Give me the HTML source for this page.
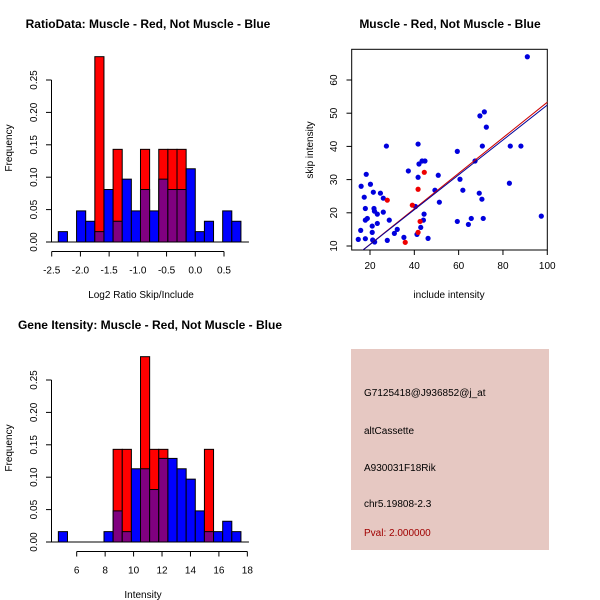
<!DOCTYPE html>
<html><head><meta charset="utf-8"><style>
html,body{margin:0;padding:0;background:#fff;}
svg{display:block;font-family:"Liberation Sans",sans-serif;}
</style></head><body>
<svg id="s" width="600" height="600" viewBox="0 0 600 600">
<rect width="600" height="600" fill="#fff"/>
<text x="148" y="28" text-anchor="middle" font-size="12" font-weight="bold">RatioData: Muscle - Red, Not Muscle - Blue</text>
<text x="450" y="28" text-anchor="middle" font-size="12" font-weight="bold">Muscle - Red, Not Muscle - Blue</text>
<text x="150" y="329" text-anchor="middle" font-size="12" font-weight="bold">Gene Itensity: Muscle - Red, Not Muscle - Blue</text>
<text x="141" y="298" text-anchor="middle" font-size="10">Log2 Ratio Skip/Include</text>
<text x="143" y="598" text-anchor="middle" font-size="10">Intensity</text>
<text x="449" y="298" text-anchor="middle" font-size="10">include intensity</text>
<text transform="translate(12,148) rotate(-90)" text-anchor="middle" font-size="10">Frequency</text>
<text transform="translate(12,448) rotate(-90)" text-anchor="middle" font-size="10">Frequency</text>
<text transform="translate(313,150) rotate(-90)" text-anchor="middle" font-size="10">skip intensity</text>
<g>
<rect x="351" y="349" width="198" height="201" fill="#e6c8c2"/>
<text x="364" y="396" font-size="10">G7125418@J936852@j_at</text>
<text x="364" y="434" font-size="10">altCassette</text>
<text x="364" y="471" font-size="10">A930031F18Rik</text>
<text x="364" y="507" font-size="10">chr5.19808-2.3</text>
<text x="364" y="536" font-size="10" fill="#a00000">Pval: 2.000000</text>
</g>
</svg>
<script>
// Ratio histogram data
const ratioStart = -2.385, ratioWidth = 0.159;
const ratioBlue = [0.016,0,0.048,0.032,0.016,0.081,0.032,0.097,0.048,0.081,0.048,0.097,0.081,0.081,0.113,0.016,0.032,0,0.048,0.032];
const ratioRed  = [0,0,0,0,0.286,0,0.143,0,0,0.143,0,0.143,0.143,0.143,0,0,0,0,0,0];
const ratioTicks = [-2.5,-2.0,-1.5,-1.0,-0.5,0.0,0.5];
// Intensity histogram data
const intStart = 4.71, intWidth = 0.642;
const intBlue = [0.016,0,0,0,0,0.016,0.048,0.016,0.113,0.113,0.081,0.129,0.129,0.113,0.097,0.048,0.016,0.016,0.032,0.016];
const intRed  = [0,0,0,0,0,0,0.143,0.143,0,0.286,0.143,0.143,0,0,0,0,0.143,0,0,0];
const intTicks = [6,8,10,12,14,16,18];
const freqTicks = [0,0.05,0.10,0.15,0.20,0.25];
// Scatter data
const blueX = [14.7,15.8,16,17.4,17.9,17.9,17.9,18.3,18.8,20.2,21,21,21.2,21.5,21.8,22,22.1,23.3,23.3,24.7,26,26,27.4,27.8,28.7,31,32.3,35.3,37.3,40.5,41.2,41.7,41.7,42.1,42.9,43.5,44.1,44.4,44.8,46.2,49.3,50.8,51.3,59.4,59.4,60.6,61.9,64.4,65.7,67.4,69.6,69.3,70.5,70.7,71.1,71.6,72.5,82.9,83.3,88.1,91,97.3];
const blueY = [12,14.7,28,24.7,21.3,17.8,12.2,31.6,18.3,28.6,16,14.1,11.8,26.2,21.3,20.5,11.2,19.6,16.8,25.9,24.4,20.2,40.1,11.7,17.8,13.8,15,12.6,32.6,21.9,13.5,40.7,30.7,34.7,15.6,35.6,17.8,19.6,35.6,12.3,26.8,31.3,23.2,38.5,17.4,30.1,26.8,16.5,18.3,35.6,49.2,25.9,24.1,40.1,18.3,50.4,45.8,28.9,40.1,40.1,67,19];
const redX = [27.8,35.9,39.1,41.7,42.6,41.7,44.5];
const redY = [23.8,11.1,22.3,27.1,17.4,14.1,32.2];
const fitBlue = [-0.06,0.525];
const fitRed = [-0.2,0.535];
const scXTicks = [20,40,60,80,100];
const scYTicks = [10,20,30,40,50,60];

const S = document.getElementById('s');
const NS = 'http://www.w3.org/2000/svg';
function mk(tag, at){const e=document.createElementNS(NS,tag);for(const k in at)e.setAttribute(k,at[k]);S.appendChild(e);return e;}

function hist(name, y0px, start, width, blue, red, ticks, xPx0, xVal0, pxPerUnit, labelFmt){
  const X = v => xPx0 + (v - xVal0) * pxPerUnit;
  const Y = f => y0px - f * 648;
  for (let i=0;i<blue.length;i++){
    const a=X(start+i*width), b=X(start+(i+1)*width);
    const r=red[i], bl=blue[i];
    if (r>0){ const e=mk('rect',{x:a,y:Y(r),width:b-a,height:y0px-Y(r),fill:'#ff0000',stroke:'#000','stroke-width':1});
      
       }
    if (bl>0 && bl>r){ const e=mk('rect',{x:a,y:Y(bl),width:b-a,height:y0px-Y(bl),fill:'#0000ff',stroke:'#000','stroke-width':1});
      
       }
    const m=Math.min(r,bl);
    if (m>0){ const e=mk('rect',{x:a,y:Y(m),width:b-a,height:y0px-Y(m),fill:'#800080',stroke:'#000','stroke-width':1});
      
       }
  }
  mk('line',{x1:X(start)-8,x2:X(start+blue.length*width)+8,y1:y0px,y2:y0px,stroke:'#000'});
  const ya=mk('line',{x1:51.5,x2:51.5,y1:Y(0),y2:Y(0.25),stroke:'#000'});
  
  
  freqTicks.forEach(t=>{
    mk('line',{x1:46,x2:51.5,y1:Y(t),y2:Y(t),stroke:'#000'});
    const tx=mk('text',{transform:`translate(37,${Y(t)}) rotate(-90)`,'text-anchor':'middle','font-size':10});
    tx.textContent=t.toFixed(2);
    
    
  });
  const ax=y0px+9.5;
  const xa=mk('line',{x1:X(ticks[0]),x2:X(ticks[ticks.length-1]),y1:ax,y2:ax,stroke:'#000'});
  
  
  ticks.forEach(t=>{
    mk('line',{x1:X(t),x2:X(t),y1:ax,y2:ax+5,stroke:'#000'});
    const tx=mk('text',{x:X(t),y:ax+22,'text-anchor':'middle','font-size':10});
    tx.textContent=labelFmt(t);
    
    
  });
}
hist('ratio', 242, ratioStart, ratioWidth, ratioBlue, ratioRed, ratioTicks, 51.7, -2.5, 57.43, t=>t.toFixed(1));
hist('intensity', 542, intStart, intWidth, intBlue, intRed, intTicks, 76.7, 6, 14.22, t=>String(t));

const SX = v => 370 + (v-20)*2.216;
const SY = v => 246 - (v-10)*3.32;
const clip=mk('clipPath',{id:'sc'}); const cr=document.createElementNS(NS,'rect');
cr.setAttribute('x',351.7);cr.setAttribute('y',49.3);cr.setAttribute('width',195.6);cr.setAttribute('height',200.7);clip.appendChild(cr);
const box=mk('rect',{x:351.7,y:49.3,width:195.6,height:200.7,fill:'none',stroke:'#000'});


scXTicks.forEach(t=>{
  mk('line',{x1:SX(t),x2:SX(t),y1:250,y2:255,stroke:'#000'});
  const tx=mk('text',{x:SX(t),y:269,'text-anchor':'middle','font-size':10}); tx.textContent=t;
  
  
});
scYTicks.forEach(t=>{
  mk('line',{x1:346.5,x2:351.7,y1:SY(t),y2:SY(t),stroke:'#000'});
  const tx=mk('text',{transform:`translate(337,${SY(t)}) rotate(-90)`,'text-anchor':'middle','font-size':10}); tx.textContent=t;
  
  
});
blueX.forEach((x,i)=>{
  const c=mk('circle',{cx:SX(x),cy:SY(blueY[i]),r:2.6,fill:'#0000dd'});
  
  
});
redX.forEach((x,i)=>{
  const c=mk('circle',{cx:SX(x),cy:SY(redY[i]),r:2.6,fill:'#ee0000'});
  
  
});
[[fitRed,'#cc0000','red-fit-line'],[fitBlue,'#000099','blue-fit-line']].forEach(([f,col,nm])=>{
  const x1=5,x2=110;
  const l=mk('line',{x1:SX(x1),y1:SY(f[0]+f[1]*x1),x2:SX(x2),y2:SY(f[0]+f[1]*x2),stroke:col,'stroke-width':1,'clip-path':'url(#sc)'});
  
  
});
</script>
</body></html>
